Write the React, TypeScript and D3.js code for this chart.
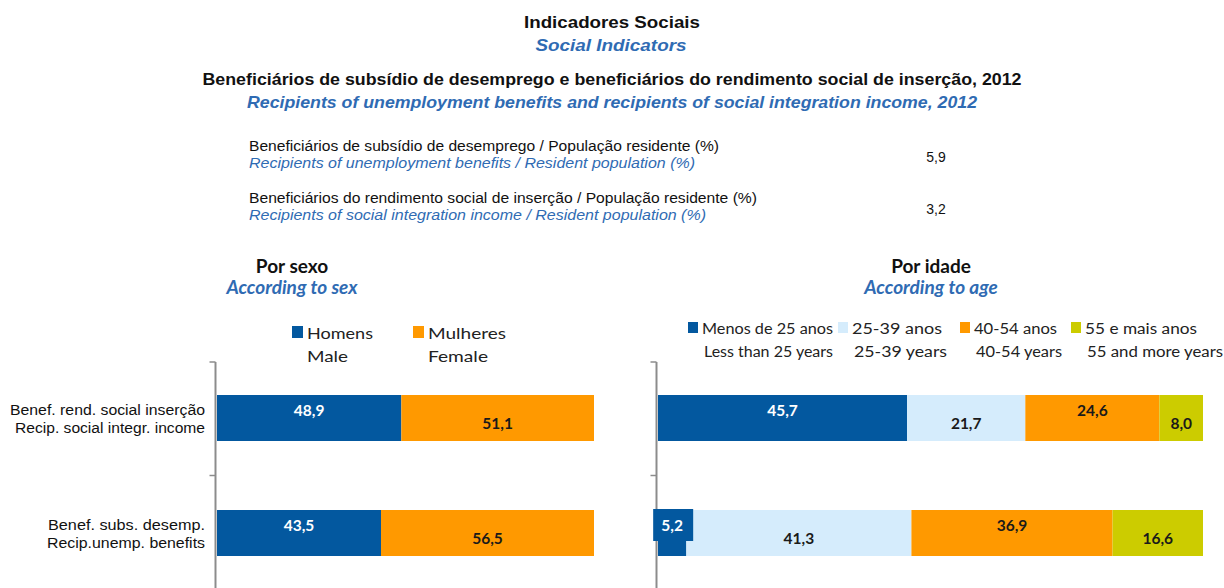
import React from "react";
import * as d3 from "d3";

const W = 1224;
const H = 588;

const categories = ["Benef. rend. social inserção|Recip. social integr. income", "Benef. subs. desemp.|Recip.unemp. benefits"];
const sexSeries = ["Homens|Male", "Mulheres|Female"];
const sexValues = [
  [48.9, 51.1],
  [43.5, 56.5],
];
const ageSeries = ["Menos de 25 anos|Less than 25 years", "25-39 anos|25-39 years", "40-54 anos|40-54 years", "55 e mais anos|55 and more years"];
const ageValues = [
  [45.7, 21.7, 24.6, 8.0],
  [5.2, 41.3, 36.9, 16.6],
];
const indicatorLabels = [
  "Beneficiários de subsídio de desemprego / População residente (%)|Recipients of unemployment benefits / Resident population  (%)",
  "Beneficiários do rendimento social de inserção / População residente (%)|Recipients of social integration income / Resident population  (%)",
];
const indicatorValues = [5.9, 3.2];

const sexColors = ["#03589f", "#ff9900"];
const ageColors = ["#03589f", "#d5ecfc", "#ff9900", "#cccc00"];
const BLUE_TXT = "#2f6bb3";
const NARROW = "'Liberation Sans Narrow', 'Liberation Sans', Arial, sans-serif";
const SANS = "'Liberation Sans', Arial, sans-serif";
const CAL = "Lato, 'Open Sans', sans-serif";

const fmt = (v: number) => v.toFixed(1).replace(".", ",");

function stack(values: number[]) {
  let acc = 0;
  return values.map((v) => {
    const s = { x0: acc, x1: acc + v, v };
    acc += v;
    return s;
  });
}

function Panel({ x0, x1, values, colors }: { x0: number; x1: number; values: number[][]; colors: string[] }) {
  const x = d3.scaleLinear().domain([0, 100]).range([x0, x1]);
  const y = d3.scaleBand<string>().domain(categories).range([360.5, 590.5]).paddingInner(0.6).paddingOuter(0.3);
  const axisX = x0 - 1.5;
  return (
    <g>
      <line x1={axisX} x2={axisX} y1={362} y2={H} stroke="#8c8c8c" strokeWidth={2} />
      <line x1={axisX - 6} x2={axisX} y1={362} y2={362} stroke="#8c8c8c" strokeWidth={1.5} />
      <line x1={axisX - 6} x2={axisX} y1={y.step() + 360.5} y2={y.step() + 360.5} stroke="#8c8c8c" strokeWidth={1.5} />
      {categories.map((c, ci) => {
        const segs = stack(values[ci]);
        const by = y(c)!;
        const bh = y.bandwidth();
        const cy = by + bh / 2;
        return (
          <g key={c}>
            {segs.map((s, si) => (
              <rect key={si} x={x(s.x0)} y={by} width={x(s.x1) - x(s.x0)} height={bh} fill={colors[si]} />
            ))}
            {segs.map((s, si) => {
              const cx = (x(s.x0) + x(s.x1)) / 2;
              const ty = si % 2 === 0 ? cy - 2 : cy + 11;
              const narrow = x(s.x1) - x(s.x0) < 34;
              return (
                <g key={"l" + si}>
                  {narrow && <rect x={cx - 19} y={ty - 22} width={40} height={32} fill={colors[si]} />}
                  <text
                    x={cx}
                    y={ty}
                    textAnchor="middle"
                    fontFamily={CAL}
                    fontWeight={700}
                    fontSize={15.5}
                    fill={si === 0 ? "#ffffff" : "#1a1a1a"}
                  >
                    {fmt(s.v)}
                  </text>
                </g>
              );
            })}
          </g>
        );
      })}
    </g>
  );
}

export default function App() {
  const yCat = d3.scaleBand<string>().domain(categories).range([360.5, 590.5]).paddingInner(0.6).paddingOuter(0.3);
  const catLens = [
    [195, 190],
    [157, 158],
  ];
  const sexLegendX = [292, 413];
  const sexLegendLens = [
    [66, 41],
    [78, 60],
  ];
  const ageLegendX = [688, 838, 960, 1071];
  const ageLegendLens = [
    [131, 129],
    [90, 93],
    [83, 86],
    [112, 136],
  ];
  return (
    <svg width={W} height={H} style={{ position: "absolute", left: 0, top: 0, background: "#fff" }}>
      <rect width={W} height={H} fill="#fff" />
      {/* Titles */}
      <text x={612} y={28} textAnchor="middle" fontFamily={NARROW} fontWeight={700} fontSize={17} fill="#111" textLength={176} lengthAdjust="spacingAndGlyphs">
        Indicadores Sociais
      </text>
      <text x={611} y={51} textAnchor="middle" fontFamily={NARROW} fontWeight={700} fontStyle="italic" fontSize={17} fill={BLUE_TXT} textLength={151} lengthAdjust="spacingAndGlyphs">
        Social Indicators
      </text>
      <text x={612} y={85} textAnchor="middle" fontFamily={NARROW} fontWeight={700} fontSize={17} fill="#111" textLength={819} lengthAdjust="spacingAndGlyphs">
        Beneficiários de subsídio de desemprego e beneficiários do rendimento social de inserção, 2012
      </text>
      <text x={612} y={108} textAnchor="middle" fontFamily={NARROW} fontWeight={700} fontStyle="italic" fontSize={17} fill={BLUE_TXT} textLength={730} lengthAdjust="spacingAndGlyphs">
        Recipients of unemployment benefits and recipients of social integration income, 2012
      </text>

      {/* Indicators */}
      {indicatorLabels.map((lab, i) => {
        const [pt, en] = lab.split("|");
        const base = 151 + i * 52;
        const lens = [
          [470, 446],
          [508, 457],
        ][i];
        return (
          <g key={i}>
            <text x={249} y={base} fontFamily={NARROW} fontSize={14} fill="#111" textLength={lens[0]} lengthAdjust="spacingAndGlyphs">
              {pt}
            </text>
            <text x={249} y={base + 17} fontFamily={NARROW} fontStyle="italic" fontSize={14} fill={BLUE_TXT} textLength={lens[1]} lengthAdjust="spacingAndGlyphs">
              {en}
            </text>
            <text x={936} y={base + 11} textAnchor="middle" fontFamily={NARROW} fontSize={14} fill="#111">
              {fmt(indicatorValues[i])}
            </text>
          </g>
        );
      })}

      {/* Section headers */}
      <text x={292} y={273} textAnchor="middle" fontFamily={CAL} fontWeight={700} fontSize={19} fill="#111">
        Por sexo
      </text>
      <text x={292} y={294} textAnchor="middle" fontFamily={CAL} fontWeight={700} fontStyle="italic" fontSize={19} fill={BLUE_TXT}>
        According to sex
      </text>
      <text x={931} y={273} textAnchor="middle" fontFamily={CAL} fontWeight={700} fontSize={19} fill="#111">
        Por idade
      </text>
      <text x={931} y={294} textAnchor="middle" fontFamily={CAL} fontWeight={700} fontStyle="italic" fontSize={19} fill={BLUE_TXT}>
        According to age
      </text>

      {/* Legend left */}
      {sexSeries.map((s, i) => {
        const [pt, en] = s.split("|");
        const lx = sexLegendX[i];
        return (
          <g key={s}>
            <rect x={lx} y={326} width={11} height={12} fill={sexColors[i]} />
            <text x={lx + 15} y={339} fontFamily={CAL} fontSize={16} fill="#222" textLength={sexLegendLens[i][0]} lengthAdjust="spacingAndGlyphs">
              {pt}
            </text>
            <text x={lx + 15} y={362} fontFamily={CAL} fontSize={16} fill="#222" textLength={sexLegendLens[i][1]} lengthAdjust="spacingAndGlyphs">
              {en}
            </text>
          </g>
        );
      })}

      {/* Legend right */}
      {ageSeries.map((s, i) => {
        const [pt, en] = s.split("|");
        const lx = ageLegendX[i];
        return (
          <g key={s}>
            <rect x={lx} y={322} width={10} height={11} fill={ageColors[i]} />
            <text x={lx + 14} y={334} fontFamily={CAL} fontSize={14.5} fill="#222" textLength={ageLegendLens[i][0]} lengthAdjust="spacingAndGlyphs">
              {pt}
            </text>
            <text x={lx + 16} y={357} fontFamily={CAL} fontSize={14.5} fill="#222" textLength={ageLegendLens[i][1]} lengthAdjust="spacingAndGlyphs">
              {en}
            </text>
          </g>
        );
      })}

      {/* Category labels */}
      {categories.map((c, ci) => {
        const [a, b] = c.split("|");
        const cy = yCat(c)! + yCat.bandwidth() / 2;
        return (
          <g key={c}>
            <text x={205 - catLens[ci][0]} y={cy - 3} fontFamily={SANS} fontSize={14} fill="#111" textLength={catLens[ci][0]} lengthAdjust="spacingAndGlyphs">
              {a}
            </text>
            <text x={205 - catLens[ci][1]} y={cy + 15} fontFamily={SANS} fontSize={14} fill="#111" textLength={catLens[ci][1]} lengthAdjust="spacingAndGlyphs">
              {b}
            </text>
          </g>
        );
      })}

      <Panel x0={217} x1={594} values={sexValues} colors={sexColors} />
      <Panel x0={658} x1={1203} values={ageValues} colors={ageColors} />
    </svg>
  );
}
